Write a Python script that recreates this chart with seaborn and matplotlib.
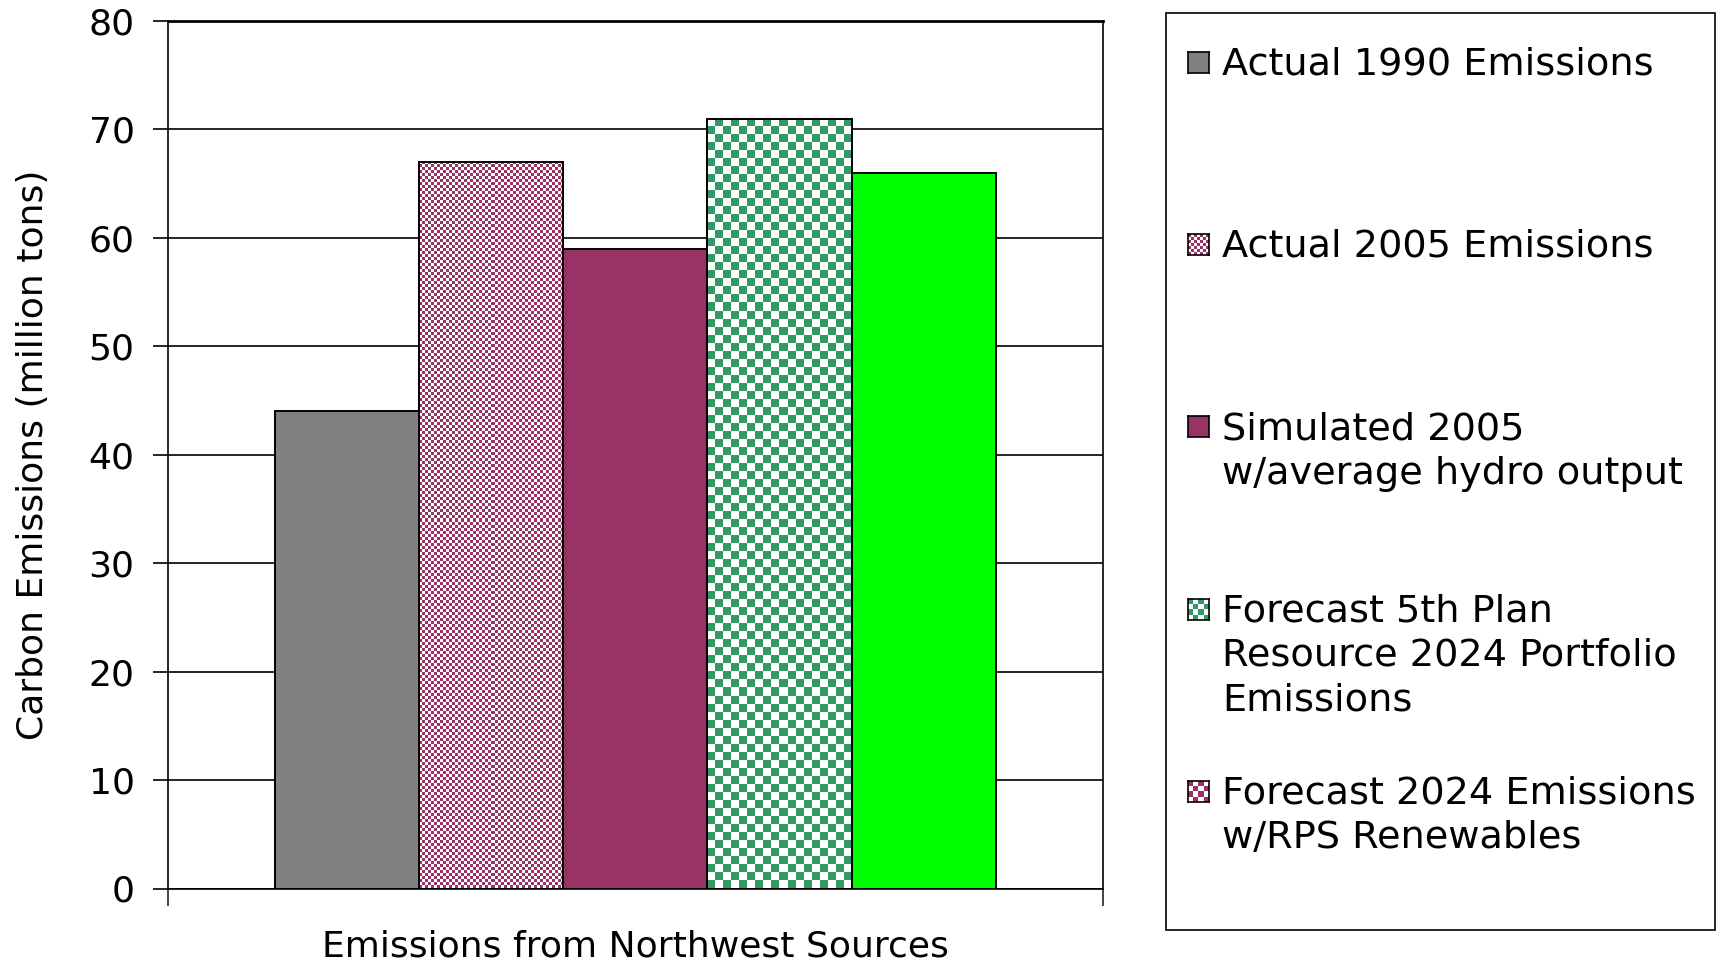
import numpy as np
import pandas as pd
import matplotlib
matplotlib.use("Agg")
import matplotlib.pyplot as plt
from matplotlib.colors import to_rgb
from matplotlib.patches import Rectangle
import seaborn as sns

# data
group = ["Emissions from Northwest Sources"]
series = ["Actual 1990 Emissions",
          "Actual 2005 Emissions",
          "Simulated 2005\nw/average hydro output",
          "Forecast 5th Plan\nResource 2024 Portfolio\nEmissions",
          "Forecast 2024 Emissions\nw/RPS Renewables"]
values = [44, 67, 59, 71, 66]
colors = ["#808080", "#993366", "#993366", "#339966", "#00ff00"]

# checker cell size in pixels (None = solid fill)
bar_cells = [None, 3, None, 8, None]
# legend keys (the original legend shows a maroon key for the last series)
key_colors = ["#808080", "#993366", "#993366", "#339966", "#993366"]
key_cells = [None, 3, None, 5, 5]

W, H = 1722, 961


def checker(ny, nx, color):
    img = np.ones((ny, nx, 3))
    mask = np.add.outer(np.arange(ny), np.arange(nx)) % 2 == 0
    img[mask] = to_rgb(color)
    return img


sns.set_theme(style="white")
plt.rcParams["font.family"] = ["DejaVu Sans"]
FS = 26
LEG_FS = 27.5

fig = plt.figure(figsize=(W / 100, H / 100), dpi=100)
ax = fig.add_axes([168 / W, 1 - 888.5 / H, (1102.5 - 168) / W, (888.5 - 21) / H])

df = pd.DataFrame({"group": group * len(series), "series": series, "value": values})
sns.barplot(data=df, x="group", y="value", hue="series", hue_order=series,
            palette=colors, width=0.772, edgecolor="black", linewidth=1.4,
            saturation=1, legend=False, ax=ax, zorder=3)

ax.set_xlim(-0.5, 0.5)
ax.set_ylim(0, 80)
ax.set_yticks(range(0, 81, 10))
ax.set_axisbelow(True)
ax.yaxis.grid(True, color="black", linewidth=1.2)

# checker patterns clipped to the bars
for patch, cell, color in zip(ax.patches, bar_cells, colors):
    if cell is None:
        continue
    x0, y0 = patch.get_x(), patch.get_y()
    w, h = patch.get_width(), patch.get_height()
    (px0, py0), (px1, py1) = ax.transData.transform([(x0, y0), (x0 + w, y0 + h)])
    nx = max(1, int(round((px1 - px0) / cell)))
    ny = max(1, int(round((py1 - py0) / cell)))
    im = ax.imshow(checker(ny, nx, color), extent=(x0, x0 + w, y0, y0 + h),
                   origin="lower", interpolation="nearest", aspect="auto", zorder=2.9)
    im.set_clip_path(patch)
    patch.set_facecolor("none")

ax.set_xlim(-0.5, 0.5)
ax.set_ylim(0, 80)

ax.set_xticks([-0.5, 0.5])
ax.set_xticklabels(["", ""])
ax.tick_params(axis="x", direction="out", length=12, width=1.2, bottom=True)
ax.tick_params(axis="y", direction="out", length=11, width=1.2, left=True,
               labelsize=FS, pad=13, colors="black")
ax.set_xlabel(group[0], fontsize=FS, labelpad=14, color="black")
ax.set_ylabel("Carbon Emissions (million tons)", fontsize=FS, labelpad=28, color="black")

for side, sp in ax.spines.items():
    sp.set_visible(True)
    sp.set_color("black")
    sp.set_linewidth(1.2)
ax.spines["top"].set_linewidth(2.0)

# legend box drawn by hand: Excel spaces the entries evenly
fig.add_artist(Rectangle((1166 / W, 1 - 930 / H), (1715 - 1166) / W, (930 - 13) / H,
                         transform=fig.transFigure, fill=False, ec="black", lw=1.2))
for i, (label, kc, cell) in enumerate(zip(series, key_colors, key_cells)):
    yc = 62.6 + 182.3 * i
    kax = fig.add_axes([1188 / W, 1 - (yc + 10) / H, 21 / W, 21 / H])
    if cell is None:
        kax.set_facecolor(kc)
    else:
        n = int(round(21 / cell))
        kax.imshow(checker(n, n, kc), interpolation="nearest", aspect="auto")
    kax.set_xticks([])
    kax.set_yticks([])
    for sp in kax.spines.values():
        sp.set_visible(True)
        sp.set_color("black")
        sp.set_linewidth(1.2)
    fig.text(1222 / W, 1 - (yc - 16) / H, label, fontsize=LEG_FS, va="top", ha="left",
             color="black", linespacing=1.3)

fig.savefig("out.png", dpi=100)
